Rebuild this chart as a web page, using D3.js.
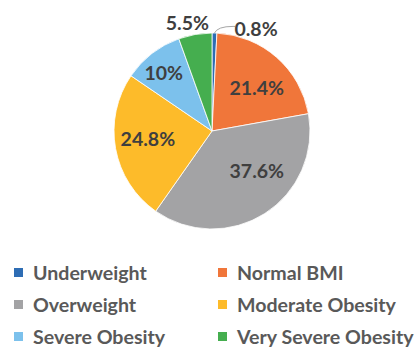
<!DOCTYPE html>
<html>
<head>
<meta charset="utf-8">
<script src="https://cdn.jsdelivr.net/npm/d3@7"></script>
<style>
  html, body { margin: 0; padding: 0; background: #fff; }
  svg { display: block; }
</style>
</head>
<body>
<svg id="chart" width="418" height="347"></svg>
<script>
// BMI category shares (%)
const categories = ["Underweight", "Normal BMI", "Overweight", "Moderate Obesity", "Severe Obesity", "Very Severe Obesity"];
const shares = [0.8, 21.4, 37.6, 24.8, 10, 5.5];
const valueLabels = ["0.8%", "21.4%", "37.6%", "24.8%", "10%", "5.5%"];
const colors = ["#2E6DB4", "#F0763A", "#A3A3A5", "#FDBB2A", "#7CC1EC", "#45AE4F"];

const svg = d3.select("#chart");
const cx = 212, cy = 131, radius = 98;

const pie = d3.pie().sort(null).value(d => d.value);
const arcs = pie(categories.map((c, i) => ({ name: c, value: shares[i], label: valueLabels[i], color: colors[i] })));
const arc = d3.arc().innerRadius(0).outerRadius(radius);

const g = svg.append("g").attr("transform", `translate(${cx},${cy})`);

g.selectAll("path.slice")
  .data(arcs)
  .join("path")
  .attr("class", "slice")
  .attr("d", arc)
  .attr("fill", d => d.data.color)
  .attr("stroke", "#fff")
  .attr("stroke-width", 0.8);

// label placement: radius as a fraction of the pie radius, plus an angular nudge (degrees)
const placement = [
  { r: 1.13, da: 22 },
  { r: 0.63, da: 5 },
  { r: 0.61, da: -16 },
  { r: 0.66, da: 3 },
  { r: 0.77, da: -2 },
  { r: 1.13, da: -3 }
];

function labelPos(d, i) {
  const a = (d.startAngle + d.endAngle) / 2 + placement[i].da * Math.PI / 180;
  const r = radius * placement[i].r;
  return [Math.sin(a) * r, -Math.cos(a) * r];
}

// leader line for the thin slice
const thin = arcs[0];
const ta = (thin.startAngle + thin.endAngle) / 2;
const p0 = [Math.sin(ta) * radius, -Math.cos(ta) * radius];
const lp = labelPos(thin, 0);
g.append("path")
  .attr("d", `M${p0[0]},${p0[1]} Q${p0[0] + 3},${lp[1] - 3} ${lp[0] - 23},${lp[1] - 3} L${lp[0] - 21},${lp[1] - 3}`)
  .attr("fill", "none")
  .attr("stroke", "#A6A6A6")
  .attr("stroke-width", 1);

g.selectAll("text.val")
  .data(arcs)
  .join("text")
  .attr("class", "val")
  .attr("x", (d, i) => labelPos(d, i)[0])
  .attr("y", (d, i) => labelPos(d, i)[1])
  .attr("text-anchor", "middle")
  .attr("dy", "0.36em")
  .attr("font-family", "Lato, 'Open Sans', sans-serif")
  .attr("font-weight", "bold")
  .attr("font-size", 19.5)
  .attr("fill", "#3F3F3F")
  .text(d => d.data.label);

// legend: two columns, three rows
const legend = svg.append("g");
const colX = [14, 218];
const rowY = [273, 305, 337];
const items = legend.selectAll("g.item")
  .data(categories)
  .join("g")
  .attr("class", "item")
  .attr("transform", (d, i) => `translate(${colX[i % 2]},${rowY[Math.floor(i / 2)]})`);

items.append("rect")
  .attr("x", 0)
  .attr("y", -5)
  .attr("width", 9)
  .attr("height", 9)
  .attr("fill", (d, i) => colors[i]);

items.append("text")
  .attr("x", 19)
  .attr("y", 0)
  .attr("dy", "0.36em")
  .attr("font-family", "Lato, 'Open Sans', sans-serif")
  .attr("font-weight", "bold")
  .attr("font-size", 19.6)
  .attr("fill", "#595959")
  .text(d => d);
</script>
</body>
</html>
